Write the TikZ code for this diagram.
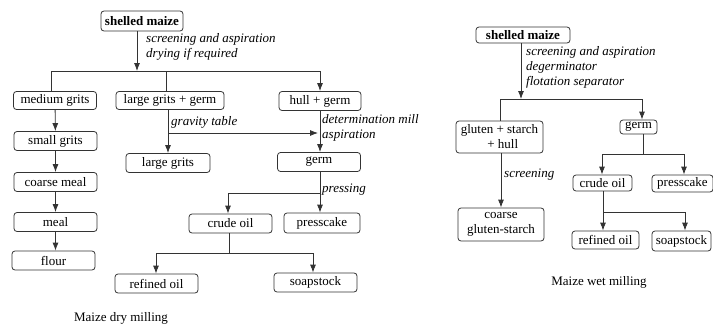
\documentclass[tikz,border=0pt]{standalone}
\usepackage{fontspec}
\setmainfont{Liberation Serif}
\usetikzlibrary{positioning, arrows.meta}
\newcommand{\diagfont}{\rmfamily\fontsize{13}{15}\selectfont}
\tikzset{
  box/.style={draw=black!80, rounded corners=3pt, line width=0.8pt, inner sep=2pt,
    minimum width=83pt, minimum height=19pt, align=center},
  note/.style={font=\diagfont\itshape, align=left, anchor=west, inner sep=0pt},
  link/.style={draw=black!80, line width=0.8pt},
  flow/.style={link, ->}
}

\begin{document}
\begin{tikzpicture}[x=1pt, y=-1pt, font=\diagfont, >={Latex[length=8pt,width=6pt]}]
  \useasboundingbox (0,0) rectangle (713,324);

  % dry milling
  \node[box, font=\diagfont\bfseries, minimum width=82pt, minimum height=20pt] (maize) at (142,21) {shelled maize};
  \node[note] (sieve) at (146,46.5) {screening and aspiration\\drying if required};
  \coordinate (drop) at (137,71);
  \coordinate (b1) at (51,71);
  \coordinate (b2) at (166,71);
  \coordinate (b3) at (320,71);

  \node[box, minimum height=18pt] (mgrits) at (55,100.5) {medium grits};
  \node[box, minimum width=108pt, minimum height=18pt] (lgg) at (170,100.5) {large grits + germ};
  \node[box, minimum width=82pt] (hg) at (320,101) {hull + germ};
  \node[box] (sgrits) at (55.5,141) {small grits};
  \node[box, minimum width=84pt] (lgrits) at (168,163) {large grits};
  \node[box] (germ) at (319,162) {germ};
  \node[box] (cmeal) at (55.5,182) {coarse meal};
  \node[box] (meal) at (55.5,222) {meal};
  \node[box] (flour) at (53.5,260.5) {flour};
  \node[box] (crude) at (230.5,223.5) {crude oil};
  \node[box, minimum width=76pt, minimum height=20pt] (cake) at (322,223) {presscake};
  \node[box] (refined) at (156.5,283.5) {refined oil};
  \node[box] (soap) at (315.5,282.5) {soapstock};
  \node (drytitle) at (121,318) {Maize dry milling};

  \node[note] (gravity) at (171,122) {gravity table};
  \node[note] (mill) at (322,128) {determination mill\\aspiration};
  \node[note] (press) at (322,190) {pressing};

  \draw[flow] (maize.south -| drop) -- (drop);
  \draw[link] (b1 |- mgrits.north) -- (b1) -- (b3);
  \draw[link] (b2) -- (b2 |- lgg.north);
  \draw[flow] (b3) -- (b3 |- hg.north);
  \draw[flow] (mgrits) -- (sgrits);
  \draw[flow] (sgrits) -- (cmeal);
  \draw[flow] (cmeal) -- (meal);
  \draw[flow] (meal.south) -- (meal.south |- flour.north);

  \coordinate (gt) at (168,133);
  \draw[flow] (lgrits.north |- lgg.south) -- (lgrits.north);
  \draw[flow] (gt) -- (318,133);
  \draw[flow] (b3 |- hg.south) -- (b3 |- germ.north);

  \coordinate (p1) at (320,193);
  \coordinate (p2) at (228,193);
  \draw[flow] (p1 |- germ.south) -- (p1 |- cake.north);
  \draw[flow] (p1) -- (p2) -- (p2 |- crude.north);

  \coordinate (r0) at (229,253);
  \coordinate (r1) at (156,253);
  \coordinate (r2) at (313,253);
  \draw[link] (r0 |- crude.south) -- (r0);
  \draw[<->, link] (r1 |- refined.north) -- (r1) -- (r2) -- (r2 |- soap.north);

  % wet milling
  \node[box, font=\diagfont\bfseries, minimum width=94pt, minimum height=16pt] (wmaize) at (523,35) {shelled maize};
  \node[note] (wsieve) at (526,67) {screening and aspiration\\degerminator\\flotation separator};
  \coordinate (wdrop) at (521,99);
  \coordinate (c1) at (500,99);
  \coordinate (c2) at (642,99);

  \node[box, minimum width=87pt, minimum height=32pt, inner sep=1pt] (gsh) at (499.5,137) {gluten + starch\\\ \ + hull};
  \node[box, minimum width=37pt, minimum height=14pt, inner sep=1pt] (wgerm) at (638.5,127) {germ};
  \node[box, minimum width=59pt, minimum height=16pt, inner sep=1pt] (wcrude) at (602.5,183) {crude oil};
  \node[box, minimum width=61pt, minimum height=17pt, inner sep=1pt] (wcake) at (682.5,183.5) {presscake};
  \node[box, minimum width=86pt, minimum height=33pt, inner sep=1pt] (cgs) at (501,224.5) {coarse\\gluten-starch};
  \node[box, minimum width=67pt, minimum height=18pt, inner sep=1pt] (wrefined) at (605.5,240) {refined oil};
  \node[box, minimum width=59pt, minimum height=20pt, inner sep=1pt] (wsoap) at (681.5,241) {soapstock};
  \node (wettitle) at (599,282) {Maize wet milling};
  \node[note] (wscreen) at (504,175) {screening};

  \draw[flow] (wmaize.south -| wdrop) -- (wdrop);
  \draw[link] (c1 |- gsh.north) -- (c1) -- (c2);
  \draw[flow] (c2) -- (c2 |- wgerm.north);
  \draw[flow] (501,0 |- gsh.south) -- (501,0 |- cgs.north);

  \coordinate (g0) at (643,154);
  \coordinate (g1) at (602,154);
  \coordinate (g2) at (684,154);
  \draw[link] (g0 |- wgerm.south) -- (g0);
  \draw[<->, link] (g1 |- wcrude.north) -- (g1) -- (g2) -- (g2 |- wcake.north);

  \coordinate (h0) at (603,212);
  \coordinate (h2) at (685,212);
  \draw[flow] (h0 |- wcrude.south) -- (h0 |- wrefined.north);
  \draw[flow] (h0) -- (h2) -- (h2 |- wsoap.north);
\end{tikzpicture}
\end{document}
